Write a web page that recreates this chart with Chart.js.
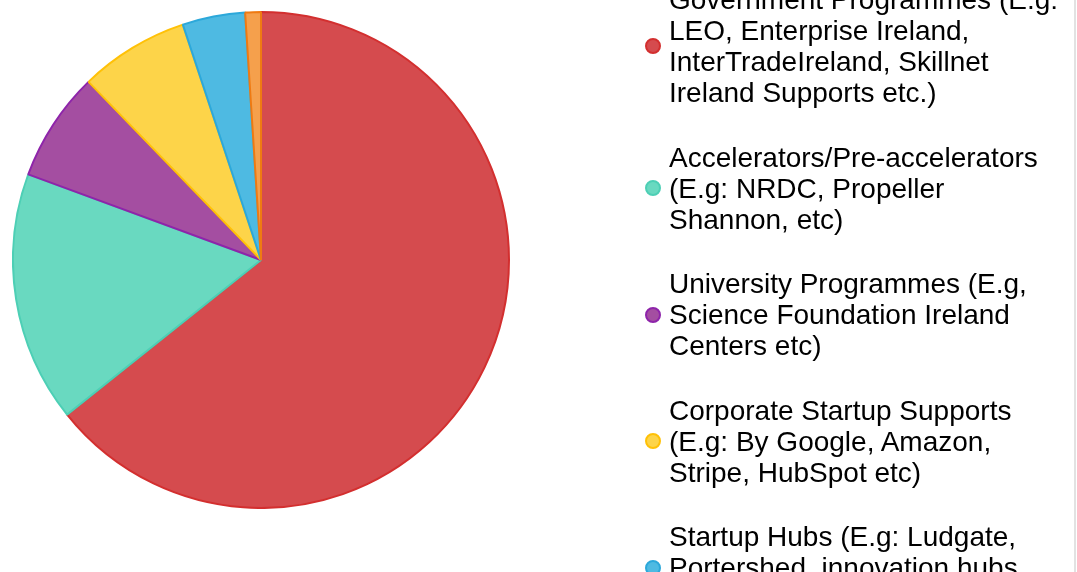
<!DOCTYPE html>
<html>
<head>
<meta charset="utf-8">
<script src="https://cdn.jsdelivr.net/npm/chart.js@4/dist/chart.umd.min.js"></script>
<style>
  html, body { margin: 0; padding: 0; background: #fff; overflow: hidden; }
  body { width: 1077px; height: 572px; position: relative; font-family: "Liberation Sans", Arial, sans-serif; }
  #pie { position: absolute; left: 12px; top: 11px; }
  #legend { position: absolute; left: 0; top: -16px; margin: 0; padding: 0; list-style: none; }
  #legend li { display: flex; align-items: center; margin-bottom: 33.5px; }
  #legend .dot { width: 16px; height: 16px; box-sizing: border-box; border: 2px solid; border-radius: 50%; margin-left: 645px; margin-right: 8px; flex: none; }
  #legend .txt { font-size: 28px; line-height: 31px; color: #000; white-space: nowrap; }
  #edge { position: absolute; left: 1074px; top: 0; width: 2px; height: 572px; background: #e2e2e2; }
</style>
</head>
<body>
<canvas id="pie" width="498" height="498"></canvas>
<ul id="legend"></ul>
<div id="edge"></div>
<script>
const categories = [
  ['Government Programmes (E.g:', 'LEO, Enterprise Ireland,', 'InterTradeIreland, Skillnet', 'Ireland Supports etc.)'],
  ['Accelerators/Pre-accelerators', '(E.g: NRDC, Propeller', 'Shannon, etc)'],
  ['University Programmes (E.g,', 'Science Foundation Ireland', 'Centers etc)'],
  ['Corporate Startup Supports', '(E.g: By Google, Amazon,', 'Stripe, HubSpot etc)'],
  ['Startup Hubs (E.g: Ludgate,', 'Portershed, innovation hubs', 'etc)'],
  ['Other'],
]
const responses = [63, 16, 7, 7, 4, 1]
const fills = ['#d54b4e', '#69d9c0', '#a44ea1', '#fdd449', '#4ebae2', '#f5a04c']
const borders = ['#d32f2f', '#4dcfb5', '#8e24aa', '#ffc107', '#2ca8da', '#ef7a12']

// html legend built from the chart's own legend items
const htmlLegend = {
  id: 'htmlLegend',
  afterUpdate(chart) {
    const ul = document.getElementById('legend')
    ul.innerHTML = ''
    const items = chart.options.plugins.legend.labels.generateLabels(chart)
    items.forEach((item) => {
      const li = document.createElement('li')
      const dot = document.createElement('span')
      dot.className = 'dot'
      dot.style.background = item.fillStyle
      dot.style.borderColor = item.strokeStyle
      const txt = document.createElement('span')
      txt.className = 'txt'
      const lines = Array.isArray(item.text) ? item.text : [item.text]
      lines.forEach((line, i) => {
        if (i) txt.appendChild(document.createElement('br'))
        txt.appendChild(document.createTextNode(line))
      })
      li.appendChild(dot)
      li.appendChild(txt)
      ul.appendChild(li)
    })
  },
}

new Chart(document.getElementById('pie'), {
  type: 'pie',
  data: {
    labels: categories,
    datasets: [
      {
        data: responses,
        backgroundColor: fills,
        borderColor: borders,
        borderWidth: 2,
      },
    ],
  },
  options: {
    responsive: false,
    animation: false,
    plugins: {
      legend: { display: false },
      tooltip: { enabled: false },
    },
  },
  plugins: [htmlLegend],
})
</script>
</body>
</html>
